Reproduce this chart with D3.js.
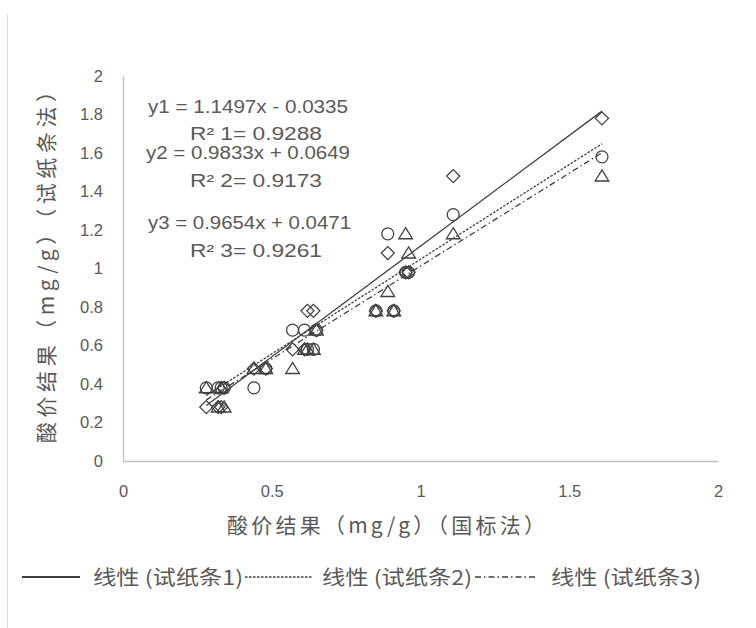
<!DOCTYPE html>
<html>
<head>
<meta charset="utf-8">
<script src="https://cdn.jsdelivr.net/npm/d3@7"></script>
<style>
  body { margin: 0; background: #fff; }
  text { font-family: "Liberation Sans", Arial, sans-serif; }
  .cjk { font-family: "Noto Sans CJK SC", sans-serif; }
</style>
</head>
<body>
<svg id="chart" width="756" height="628"></svg>
<script>
// 国标法结果 (x) 与三种试纸条结果 (y)
var xValues  = [0.28, 0.32, 0.33, 0.34, 0.44, 0.48, 0.57, 0.61, 0.62, 0.64, 0.65, 0.85, 0.89, 0.91, 0.95, 0.96, 1.11, 1.61];
var strip1   = [0.28, 0.28, 0.28, 0.38, 0.48, 0.48, 0.58, 0.58, 0.78, 0.78, 0.68, 0.78, 1.08, 0.78, 0.98, 0.98, 1.48, 1.78];
var strip2   = [0.38, 0.38, 0.38, 0.38, 0.38, 0.48, 0.68, 0.68, 0.58, 0.58, 0.68, 0.78, 1.18, 0.78, 0.98, 0.98, 1.28, 1.58];
var strip3   = [0.38, 0.28, 0.38, 0.28, 0.48, 0.48, 0.48, 0.58, 0.58, 0.58, 0.68, 0.78, 0.88, 0.78, 1.18, 1.08, 1.18, 1.48];

var seriesNames = ["试纸条1", "试纸条2", "试纸条3"];
var slopes      = [1.1497, 0.9833, 0.9654];
var intercepts  = [-0.0335, 0.0649, 0.0471];
var rSquared    = [0.9288, 0.9173, 0.9261];
var eqLabels    = ["y1 = 1.1497x - 0.0335", "y2 = 0.9833x + 0.0649", "y3 = 0.9654x + 0.0471"];
var r2Labels    = ["R² 1= 0.9288", "R² 2= 0.9173", "R² 3= 0.9261"];

var xTicks = [0, 0.5, 1, 1.5, 2];
var yTicks = [0, 0.2, 0.4, 0.6, 0.8, 1, 1.2, 1.4, 1.6, 1.8, 2];

var svg = d3.select("svg#chart"),
    ink = "#404040",
    label = "#595959",
    axisColor = "#bfbfbf",
    x_scale = d3.scaleLinear().domain([0, 2]).range([123, 718]),
    y_scale = d3.scaleLinear().domain([0, 2]).range([461, 76]);

// chart area border (only the left edge shows)
svg.append("line")
    .attr("x1", 7.5).attr("x2", 7.5)
    .attr("y1", 14).attr("y2", 628)
    .style("stroke", "#d9d9d9");

// axes
var x_axis = d3.axisBottom(x_scale).tickValues(xTicks).tickSize(0).tickPadding(24)
    .tickFormat(d3.format("~g"));
var y_axis = d3.axisLeft(y_scale).tickValues(yTicks).tickSize(0).tickPadding(20)
    .tickFormat(d3.format("~g"));

var gx = svg.append("g").attr("transform", "translate(0," + y_scale(0) + ")").call(x_axis);
var gy = svg.append("g").attr("transform", "translate(" + x_scale(0) + ",0)").call(y_axis);

[gx, gy].forEach(function (g) {
    g.select(".domain").style("stroke", axisColor).style("stroke-width", 1.3);
    g.selectAll("text")
        .style("font-family", "'Liberation Sans', Arial, sans-serif")
        .style("font-size", "16.5px")
        .style("fill", label);
});

// axis titles
svg.append("text")
    .attr("class", "cjk")
    .attr("x", 386).attr("y", 533)
    .attr("text-anchor", "middle")
    .attr("textLength", 318)
    .attr("lengthAdjust", "spacing")
    .style("font-size", "21px")
    .style("fill", label)
    .text("酸价结果（mg/g）（国标法）");

svg.append("text")
    .attr("class", "cjk")
    .attr("transform", "translate(54,262) rotate(-90)")
    .attr("text-anchor", "middle")
    .attr("textLength", 362)
    .attr("lengthAdjust", "spacing")
    .style("font-size", "21px")
    .style("fill", label)
    .text("酸价结果（mg/g）（试纸条法）");

// trendlines
var dashes = [null, "2.5,1.5", "6,3,1.5,3"];
var xMin = d3.min(xValues), xMax = d3.max(xValues);

var trend = svg.append("g").selectAll("line")
    .data(slopes.map(function (m, i) { return { m: m, b: intercepts[i], dash: dashes[i] }; }));

trend.enter()
    .append("line")
    .attr("x1", x_scale(xMin))
    .attr("x2", x_scale(xMax))
    .attr("y1", d => y_scale(d.m * xMin + d.b))
    .attr("y2", d => y_scale(d.m * xMax + d.b))
    .style("stroke", ink)
    .style("stroke-width", 1.3)
    .style("stroke-dasharray", d => d.dash);

// markers
var diamond = function (s) { return "M0," + (-s) + "L" + s + ",0L0," + s + "L" + (-s) + ",0Z"; };
var triangle = function (s) { return "M0," + (-s * 0.95) + "L" + (s * 1.05) + "," + (s * 0.75) + "L" + (-s * 1.05) + "," + (s * 0.75) + "Z"; };

var series = [
    { ys: strip1, shape: diamond(6.5) },
    { ys: strip2, shape: "M6,0A6,6 0 1,1 -6,0A6,6 0 1,1 6,0Z" },
    { ys: strip3, shape: triangle(6.5) }
];

series.forEach(function (s) {
    svg.append("g").selectAll("path")
        .data(xValues.map(function (x, i) { return { x: x, y: s.ys[i] }; }))
        .enter()
        .append("path")
        .attr("d", s.shape)
        .attr("transform", d => "translate(" + x_scale(d.x) + "," + y_scale(d.y) + ")")
        .style("fill", "none")
        .style("stroke", ink)
        .style("stroke-width", 1.3);
});

// regression labels
var eqPos = [[148, 113, 190, 140, 200], [146, 159, 190, 187, 204], [148, 229, 190, 257, 203]];
eqLabels.forEach(function (t, i) {
    svg.append("text")
        .attr("x", eqPos[i][0]).attr("y", eqPos[i][1])
        .attr("textLength", eqPos[i][4])
        .attr("lengthAdjust", "spacingAndGlyphs")
        .style("font-size", "18px").style("fill", label)
        .text(t);
    svg.append("text")
        .attr("x", eqPos[i][2]).attr("y", eqPos[i][3])
        .attr("textLength", 132)
        .attr("lengthAdjust", "spacingAndGlyphs")
        .style("font-size", "18px").style("fill", label)
        .text(r2Labels[i]);
});

// legend
var legend = svg.append("g").attr("class", "legend");
var legendPos = [[22, 80, 93], [245, 312, 322], [475, 537, 551]];
seriesNames.forEach(function (name, i) {
    legend.append("line")
        .attr("x1", legendPos[i][0]).attr("x2", legendPos[i][1])
        .attr("y1", 577).attr("y2", 577)
        .style("stroke", ink)
        .style("stroke-width", i === 0 ? 1.8 : 1.3)
        .style("stroke-dasharray", dashes[i]);
    legend.append("text")
        .attr("class", "cjk")
        .attr("x", legendPos[i][2]).attr("y", 585)
        .attr("textLength", 150)
        .attr("lengthAdjust", "spacingAndGlyphs")
        .style("font-size", "20px")
        .style("fill", label)
        .text("线性 (" + name + ")");
});
</script>
</body>
</html>
